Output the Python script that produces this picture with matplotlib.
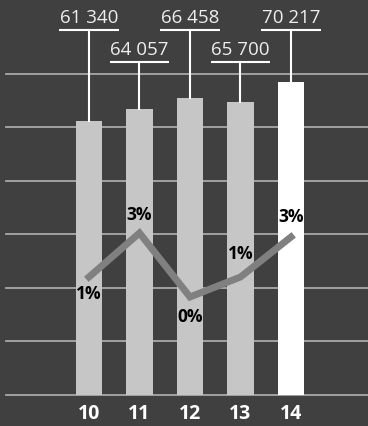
import numpy as np
import matplotlib
matplotlib.use("Agg")
import matplotlib.pyplot as plt
from matplotlib.transforms import blended_transform_factory

# データ
years = ["10", "11", "12", "13", "14"]
values = [61340, 64057, 66458, 65700, 70217]
value_labels = ["61 340", "64 057", "66 458", "65 700", "70 217"]
growth = [1.0, 3.2, 0.0, 1.0, 3.0]
growth_labels = ["1%", "3%", "0%", "1%", "3%"]

bg = "#404040"
plt.rcParams['font.family'] = ['Open Sans', 'DejaVu Sans']

fig = plt.figure(figsize=(3.68, 4.26), dpi=100, facecolor=bg)
ax = fig.add_axes([0, 0, 1, 1])
ax.set_facecolor(bg)

x = np.arange(len(years))
ylo, yhi = -6944, 88480
ax.set_xlim(-1.762, 5.525)
ax.set_ylim(ylo, yhi)

# グリッド線
for g in range(0, 84000, 12000):
    ax.plot([-1.64, 5.6], [g, g], color="#a9a9a9", lw=1.3, zorder=1)

colors = ["#c6c6c6"] * 4 + ["#ffffff"]
ax.bar(x, values, width=0.52, color=colors, zorder=2)

# ラベル（引き出し線付き）
trans = blended_transform_factory(ax.transData, ax.transAxes)
levels = [1 - 30 / 426, 1 - 62 / 426]
for i, (v, lab) in enumerate(zip(values, value_labels)):
    lv = levels[i % 2]
    y_data = ylo + lv * (yhi - ylo)
    ax.plot([x[i], x[i]], [v, y_data], color="white", lw=1.5, zorder=3)
    ax.plot([x[i] - 0.585, x[i] + 0.585], [lv, lv], color="white", lw=1.5,
            transform=trans, zorder=3, solid_capstyle="butt")
    ax.text(x[i], lv + 0.008, lab, transform=trans, ha="center", va="bottom",
            color="#eeeeee", fontsize=13.5, zorder=3)

ax.set_axis_off()

# 伸び率の折れ線
ax2 = ax.twinx()
ax2.set_position([0, 0, 1, 1])
ax2.set_ylim(-6.45, 14.85)
ax2.set_axis_off()
ax2.plot(x, growth, color="#808080", lw=5, zorder=4, solid_joinstyle="miter")
offsets = [-17, 18, -20, 23, 20]
for i, lab in enumerate(growth_labels):
    ax2.annotate(lab, (x[i], growth[i]), xytext=(0, offsets[i] * 0.72),
                 textcoords="offset points", ha="center", va="center",
                 fontsize=12.5, fontweight="bold", color="black", zorder=5)

# 年ラベル
for i, yr in enumerate(years):
    ax.text(x[i], 1 - 414 / 426, yr, transform=trans, ha="center", va="center",
            color="white", fontsize=14, fontweight="bold")

fig.savefig("out.png", dpi=100, facecolor=bg)
